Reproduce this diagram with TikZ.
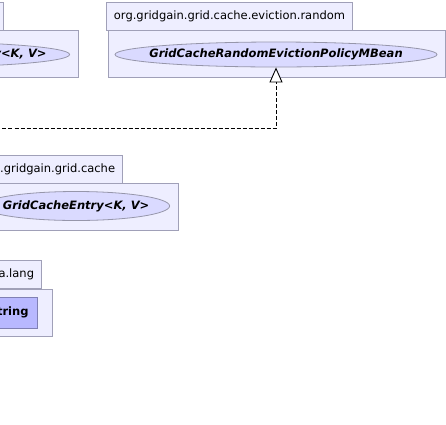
\documentclass[tikz,border=0pt]{standalone}
\usepackage{fontspec}
\setmainfont{DejaVu Sans}
\usetikzlibrary{shapes.geometric,arrows.meta}
\definecolor{pkgfill}{RGB}{238,238,255}
\definecolor{pkgborder}{RGB}{160,160,184}
\definecolor{ellfill}{RGB}{218,218,255}
\definecolor{ellborder}{RGB}{150,150,170}
\definecolor{clsfill}{RGB}{184,184,255}
\definecolor{clsborder}{RGB}{128,128,180}
\newcommand{\ctext}[1]{\makebox[0pt]{#1}}
\tikzset{
  pkgbox/.style={draw=pkgborder, fill=pkgfill, line width=0.9pt, inner sep=0pt, anchor=north west},
  pkgtab/.style={draw=pkgborder, fill=pkgfill, line width=0.9pt, font=\fontsize{11.5}{13}\selectfont,
     inner xsep=7.5pt, inner ysep=0pt, minimum height=28pt, anchor=north east},
  iface/.style={ellipse, draw=ellborder, fill=ellfill, line width=0.8pt, inner sep=0pt,
     font=\fontsize{11.5}{13}\selectfont\bfseries\itshape},
  clsbox/.style={draw=clsborder, fill=clsfill, line width=0.8pt, inner xsep=9pt, inner ysep=0pt,
     font=\fontsize{11.5}{13}\selectfont\bfseries, anchor=east},
  dep/.style={draw=black, line width=0.9pt, dash pattern=on 4pt off 2pt,
     -{Triangle[length=15pt, width=13pt, fill=white]}}
}
\begin{document}
\begin{tikzpicture}[x=1pt, y=-1pt]
\useasboundingbox (0,0) rectangle (446,424);
\clip (0,0) rectangle (446,424);
% top-left package (cut off)
\node[pkgbox, minimum width=140pt, minimum height=47pt] (boxA) at (-62,30) {};
\node[pkgtab, minimum width=60pt] (tabA) at (4,2) {};
\node[iface, minimum width=301pt, minimum height=25pt, anchor=east] (rep) at (70,54.5) {\ctext{GridCacheRandomEvictionPolicy<K, V>}};
% right package
\node[pkgbox, minimum width=337pt, minimum height=47pt] (boxB) at (108,30) {};
\node[pkgtab, minimum width=245pt] (tabB) at (353,2) {org.gridgain.grid.cache.eviction.random};
\node[iface, minimum width=322pt, minimum height=25pt] (mbean) at (276,54.5) {\ctext{GridCacheRandomEvictionPolicyMBean}};
% org.gridgain.grid.cache
\node[pkgbox, minimum width=240pt, minimum height=47pt] (boxC) at (-62,183) {};
\node[pkgtab] (tabC) at (123,155) {org.gridgain.grid.cache};
\node[iface, minimum width=187pt, minimum height=29pt, anchor=east] (entry) at (170,206) {\ctext{GridCacheEntry<K, V>}};
% java.lang
\node[pkgbox, minimum width=114pt, minimum height=47pt] (boxD) at (-62,289) {};
\node[pkgtab] (tabD) at (42,260) {java.lang};
\node[clsbox, minimum height=31pt] (str) at (38,312.5) {String};
% dependency
\coordinate (lvl) at (0,128);
\draw[dep] (rep.south) |- (mbean.south |- lvl) -- (mbean.south);
\end{tikzpicture}
\end{document}
